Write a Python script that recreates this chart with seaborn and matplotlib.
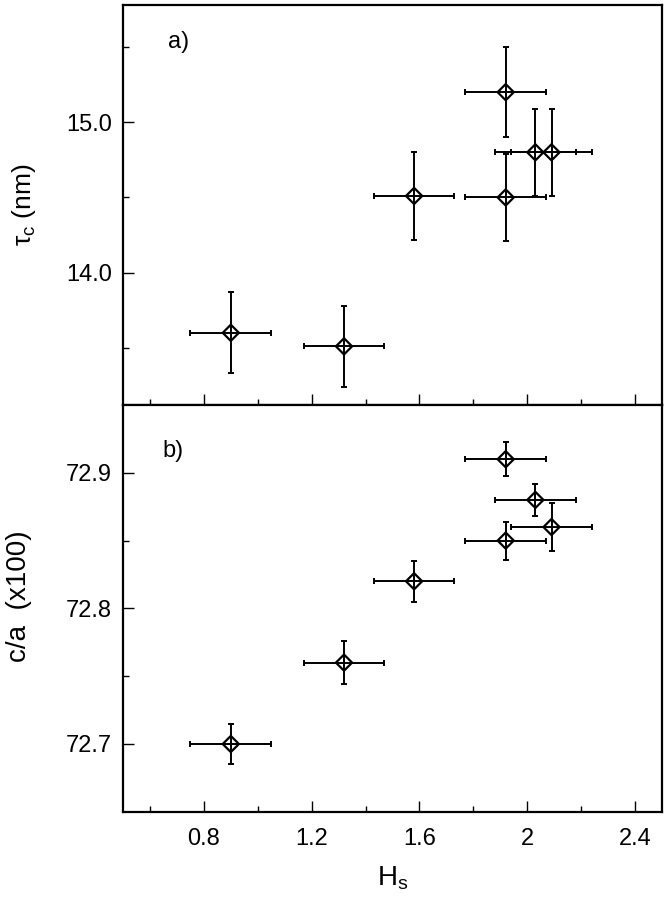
import matplotlib
matplotlib.use('Agg')
import matplotlib.pyplot as plt
import seaborn as sns
import numpy as np
import pandas as pd
from matplotlib.ticker import MultipleLocator, FixedLocator, FixedFormatter

# data
hs = [0.90, 1.32, 1.58, 1.92, 1.92, 2.03, 2.09]
hs_err = [0.15, 0.15, 0.15, 0.15, 0.15, 0.15, 0.15]
tau = [13.60, 13.51, 14.51, 15.20, 14.50, 14.80, 14.80]
tau_err = [0.27, 0.27, 0.29, 0.30, 0.29, 0.29, 0.29]
hs_b = [0.90, 1.32, 1.58, 1.92, 1.92, 2.03, 2.09]
ca = [72.700, 72.760, 72.820, 72.910, 72.850, 72.880, 72.860]
ca_err = [0.015, 0.016, 0.015, 0.0125, 0.014, 0.012, 0.018]

x_major = [0.8, 1.2, 1.6, 2.0, 2.4]
x_labels = ['0.8', '1.2', '1.6', '2', '2.4']

sns.set_theme(style='ticks')
plt.rcParams['font.family'] = ['Liberation Sans', 'DejaVu Sans']
plt.rcParams['text.color'] = 'black'
plt.rcParams['axes.labelcolor'] = 'black'
plt.rcParams['xtick.color'] = 'black'
plt.rcParams['ytick.color'] = 'black'

df_a = pd.DataFrame({'hs': hs, 'y': tau, 'xe': hs_err, 'ye': tau_err})
df_b = pd.DataFrame({'hs': hs_b, 'y': ca, 'xe': hs_err, 'ye': ca_err})

fig = plt.figure(figsize=(6.65, 8.99), dpi=100)
a1 = fig.add_axes([0.185, 0.5495, 0.8105, 0.445])
a2 = fig.add_axes([0.185, 0.097, 0.8105, 0.4525])


def panel(ax, d):  # error bars + open diamonds
    ax.errorbar(d['hs'], d['y'], xerr=d['xe'], yerr=d['ye'], fmt='none',
                ecolor='black', elinewidth=1.4, capsize=2.5, capthick=1.4, zorder=2)
    sns.scatterplot(data=d, x='hs', y='y', marker='D', s=68, facecolors='none',
                    edgecolor='black', linewidth=1.6, ax=ax, zorder=3)
    ax.set_xlim(0.5, 2.5)
    ax.xaxis.set_major_locator(FixedLocator(x_major))
    ax.xaxis.set_minor_locator(MultipleLocator(0.2))
    ax.tick_params(which='both', direction='in', top=False, right=False, labelsize=17,
                   width=1.0, color='black', labelcolor='black')
    ax.tick_params(which='major', length=8)
    ax.tick_params(which='minor', length=4.5)
    ax.tick_params(axis='y', pad=8)
    for s in ax.spines.values():
        s.set_linewidth(1.6)
        s.set_color('black')
        s.set_visible(True)
    ax.set_xlabel('')
    ax.set_ylabel('')


panel(a1, df_a)
a1.set_ylim(13.12, 15.78)
a1.yaxis.set_major_locator(FixedLocator([14.0, 15.0]))
a1.yaxis.set_major_formatter(FixedFormatter(['14.0', '15.0']))
a1.yaxis.set_minor_locator(FixedLocator([13.5, 14.5, 15.5]))
a1.tick_params(axis='x', labelbottom=False)
a1.set_ylabel(r'τ$_\mathregular{c}$ (nm)', fontsize=19)
a1.yaxis.set_label_coords(-0.158, 0.5)
a1.text(0.083, 0.935, 'a)', transform=a1.transAxes, fontsize=17, va='top', ha='left')

panel(a2, df_b)
a2.set_ylim(72.65, 72.95)
a2.yaxis.set_major_locator(FixedLocator([72.7, 72.8, 72.9]))
a2.yaxis.set_major_formatter(FixedFormatter(['72.7', '72.8', '72.9']))
a2.yaxis.set_minor_locator(FixedLocator([72.75, 72.85]))
a2.xaxis.set_major_formatter(FixedFormatter(x_labels))
a2.tick_params(axis='x', pad=12)
a2.set_ylabel('c/a  (x100)', fontsize=20)
a2.yaxis.set_label_coords(-0.168, 0.53)
a2.set_xlabel(r'H$_\mathregular{s}$', fontsize=20, labelpad=10)
a2.text(0.074, 0.915, 'b)', transform=a2.transAxes, fontsize=17, va='top', ha='left')

fig.savefig('out.png', dpi=100)
plt.close()
